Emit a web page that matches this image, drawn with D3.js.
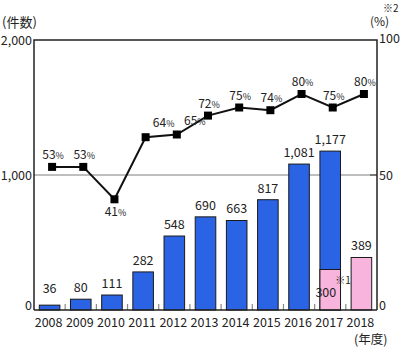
<!DOCTYPE html>
<html><head><meta charset="utf-8">
<script src="https://cdn.jsdelivr.net/npm/d3@7"></script>
<style>body{margin:0;background:#fff}svg{display:block}text{font-family:"Noto Sans CJK JP","Noto Sans",sans-serif;fill:#222}</style>
</head><body><svg id="c" width="400" height="350"></svg>
<script>
const years = ["2008","2009","2010","2011","2012","2013","2014","2015","2016","2017","2018"];
const counts = [36,80,111,282,548,690,663,817,1081,1177,null];
const pinkCounts = [null,null,null,null,null,null,null,null,null,300,389];
const rates = [53,53,41,64,65,72,75,74,80,75,80];
const leftTicks = [0,1000,2000];
const rightTicks = [0,50,100];

const svg = d3.select("#c");
const L=34, R=377, T=40, B=310;
const x = d3.scaleBand().domain(years).range([L,R]).paddingInner(0.34).paddingOuter(0.17);
const yL = d3.scaleLinear().domain([0,2000]).range([B,T]);
const yR = d3.scaleLinear().domain([0,100]).range([B,T]);
const fmt = d3.format(",");

// gridline at 1000
svg.append("line").attr("x1",L).attr("x2",R).attr("y1",yL(1000)).attr("y2",yL(1000)).attr("stroke","#a8a8a8").attr("stroke-width",1.5);
// right-axis inner tick at 50
svg.append("line").attr("x1",R-7).attr("x2",R).attr("y1",yR(50)).attr("y2",yR(50)).attr("stroke","#333").attr("stroke-width",1);

// category separator ticks
years.slice(1).forEach(yr=>{
  const xx = x(yr) - x.step()*x.paddingInner()/2;
  svg.append("line").attr("x1",xx).attr("x2",xx).attr("y1",B).attr("y2",B-6).attr("stroke","#888").attr("stroke-width",1.2);
});

// bars
const bw = x.bandwidth();
years.forEach((yr,i)=>{
  if(counts[i]!=null){
    svg.append("rect").attr("x",x(yr)).attr("width",bw).attr("y",yL(counts[i])).attr("height",B-yL(counts[i]))
      .attr("fill","#2a63e4").attr("stroke","#1a1a1a").attr("stroke-width",1);
  }
  if(pinkCounts[i]!=null){
    svg.append("rect").attr("x",x(yr)).attr("width",bw).attr("y",yL(pinkCounts[i])).attr("height",B-yL(pinkCounts[i]))
      .attr("fill","#f8b4dc").attr("stroke","#1a1a1a").attr("stroke-width",1);
  }
});

// axes frame
svg.append("path").attr("d",`M${L},${B}V${T}H${R}V${B}`).attr("fill","none").attr("stroke","#222").attr("stroke-width",1.5);
svg.append("line").attr("x1",L).attr("x2",R).attr("y1",B).attr("y2",B).attr("stroke","#222").attr("stroke-width",1.5);

// bar value labels
years.forEach((yr,i)=>{
  const cx = x(yr)+bw/2;
  if(counts[i]!=null){
    const ty = Math.min(yL(counts[i])-7, 293);
    svg.append("text").attr("x",cx).attr("y",ty).attr("text-anchor","middle").attr("font-size",12.5).text(fmt(counts[i]));
  }
  if(pinkCounts[i]!=null && counts[i]==null){
    svg.append("text").attr("x",cx).attr("y",yL(pinkCounts[i])-7).attr("text-anchor","middle").attr("font-size",12.5).text(fmt(pinkCounts[i]));
  }
  if(pinkCounts[i]!=null && counts[i]!=null){
    svg.append("text").attr("x",cx+6).attr("y",yL(pinkCounts[i])+27).attr("text-anchor","end").attr("font-size",12.5).text(fmt(pinkCounts[i]));
    svg.append("text").attr("x",cx+5).attr("y",yL(pinkCounts[i])+14).attr("font-size",10).text("※1");
  }
});

// line
const px = yr => x(yr)+bw/2+2.5;
const line = d3.line().x((d,i)=>px(years[i])).y(d=>yR(d));
svg.append("path").datum(rates).attr("d",line).attr("fill","none").attr("stroke","#111").attr("stroke-width",2);
svg.selectAll("rect.m").data(rates).join("rect").attr("class","m")
  .attr("x",(d,i)=>px(years[i])-4).attr("y",d=>yR(d)-4).attr("width",8).attr("height",8).attr("fill","#000");
rates.forEach((r,i)=>{
  let dx=0, ty=yR(r)-8;
  if(i===2){ ty = yR(r)+17; }
  if(i===3||i===4){ dx=17; ty=yR(r)-10; }
  const t = svg.append("text").attr("x",px(years[i])+dx+1).attr("y",ty).attr("text-anchor","middle").attr("font-size",12);
  t.append("tspan").text(r);
  t.append("tspan").attr("font-size",9).text("%");
});

// left axis labels
leftTicks.forEach(v=>{
  svg.append("text").attr("x",L-2).attr("y",yL(v)).attr("dy",v===0?"0":"0.38em").attr("text-anchor","end").attr("font-size",12.5).text(fmt(v));
});
rightTicks.forEach(v=>{
  svg.append("text").attr("x",R+2).attr("y",yR(v)).attr("dy",v===0?"0":(v===100?"0.2em":"0.38em")).attr("font-size",12.5).text(v);
});

// x labels
years.forEach(yr=>{
  svg.append("text").attr("x",x(yr)+bw/2-1).attr("y",327).attr("text-anchor","middle").attr("font-size",12.5).text(yr);
});

// titles
svg.append("text").attr("x",2).attr("y",27).attr("font-size",13).text("(件数)");
svg.append("text").attr("x",370).attr("y",26).attr("font-size",12).text("(%)");
svg.append("text").attr("x",383).attr("y",12).attr("font-size",10).text("※2");
svg.append("text").attr("x",354).attr("y",344).attr("font-size",12.5).text("(年度)");
</script></body></html>
